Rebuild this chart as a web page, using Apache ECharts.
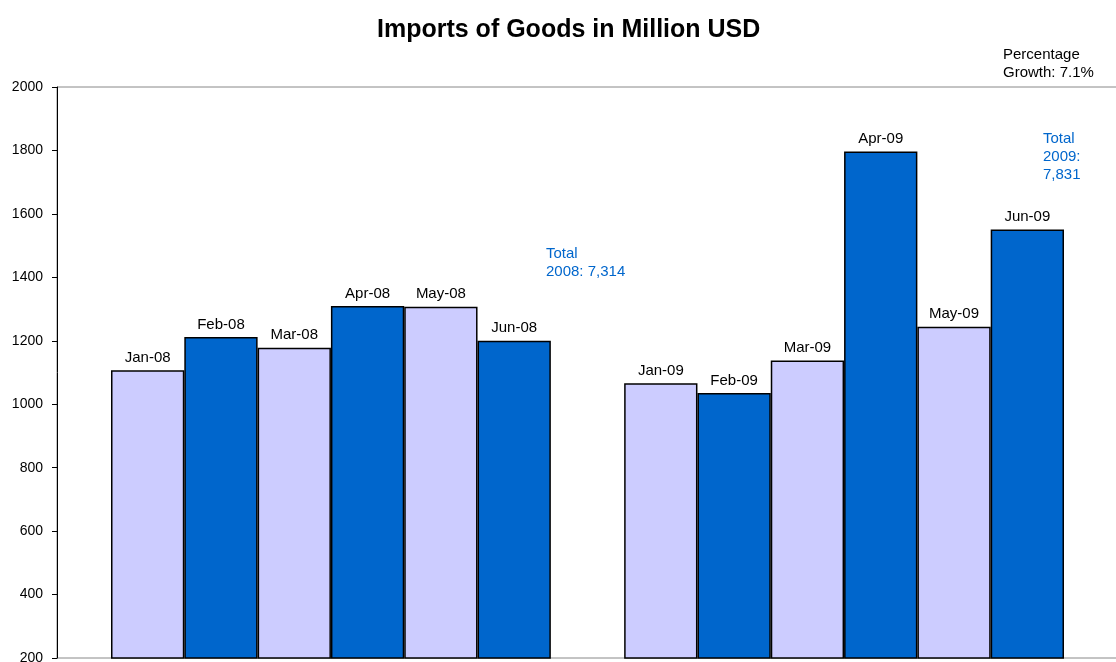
<!DOCTYPE html>
<html>
<head>
<meta charset="utf-8">
<script src="https://cdn.jsdelivr.net/npm/echarts@6/dist/echarts.min.js"></script>
<style>html,body{margin:0;padding:0;background:#fff;}#c{width:1116px;height:662px;}</style>
</head>
<body>
<div id="c"></div>
<script>
var categories = ['Jan-08','Feb-08','Mar-08','Apr-08','May-08','Jun-08','', 'Jan-09','Feb-09','Mar-09','Apr-09','May-09','Jun-09'];
var values2008 = [1107, 1212, 1178, 1310, 1307, 1200];
var values2009 = [1066, 1035, 1138, 1797, 1244, 1551];
var yTicks = [200, 400, 600, 800, 1000, 1200, 1400, 1600, 1800, 2000];
var titleText = 'Imports of Goods in Million USD';
var notes = {
  total2008: 'Total\n2008: 7,314',
  total2009: 'Total\n2009:\n7,831',
  growth: 'Percentage\nGrowth: 7.1%'
};

var FONT = 'Arial, "Liberation Sans", sans-serif';
var LIGHT = '#CCCCFF', DARK = '#0066CC';

function items(vals) {
  return vals.map(function (v, i) {
    return { value: v, itemStyle: { color: i % 2 === 0 ? LIGHT : DARK } };
  });
}
var barData = items(values2008).concat(['-']).concat(items(values2009));

var chart = echarts.init(document.getElementById('c'));
chart.setOption({
  animation: false,
  backgroundColor: '#fff',
  title: {
    text: titleText, left: 372, top: 13,
    textStyle: { fontFamily: FONT, fontSize: 25, fontWeight: 'bold', color: '#000' }
  },
  grid: [
    { left: 111, right: 52, top: 87, bottom: 4, outerBoundsMode: 'none', containLabel: false },
    { left: 57, right: -30, top: 87, bottom: 4, outerBoundsMode: 'none', show: true, borderColor: '#888', borderWidth: 1, backgroundColor: 'transparent' }
  ],
  xAxis: [
    { type: 'category', gridIndex: 0, data: categories, axisLine: { show: false }, axisTick: { show: false }, axisLabel: { show: false } },
    { type: 'value', gridIndex: 1, show: false }
  ],
  yAxis: [
    {
      type: 'value', gridIndex: 0, min: yTicks[0], max: yTicks[yTicks.length - 1], interval: 200,
      offset: 54,
      axisLine: { show: true, lineStyle: { color: '#000', width: 1 } },
      axisTick: { show: true, length: 5, lineStyle: { color: '#000' } },
      axisLabel: { fontFamily: FONT, fontSize: 14, color: '#000', margin: 14, formatter: function (v) { return String(v); } },
      splitLine: { show: false },
      z: 5
    },
    { type: 'value', gridIndex: 1, show: false }
  ],
  series: [{
    type: 'bar', xAxisIndex: 0, yAxisIndex: 0,
    data: barData,
    barWidth: '100%', barCategoryGap: '0%',
    itemStyle: { borderColor: '#000', borderWidth: 1.5 },
    label: {
      show: true, position: 'top', distance: 5,
      formatter: function (p) { return categories[p.dataIndex]; },
      fontFamily: FONT, fontSize: 15, color: '#000'
    }
  }],
  graphic: [
    { type: 'text', left: 1003, top: 46, style: { text: notes.growth, font: '15px ' + FONT, fill: '#000', lineHeight: 18 } },
    { type: 'text', left: 546, top: 245, style: { text: notes.total2008, font: '15px ' + FONT, fill: DARK, lineHeight: 18 } },
    { type: 'text', left: 1043, top: 130, style: { text: notes.total2009, font: '15px ' + FONT, fill: DARK, lineHeight: 18 } }
  ]
});
</script>
</body>
</html>
